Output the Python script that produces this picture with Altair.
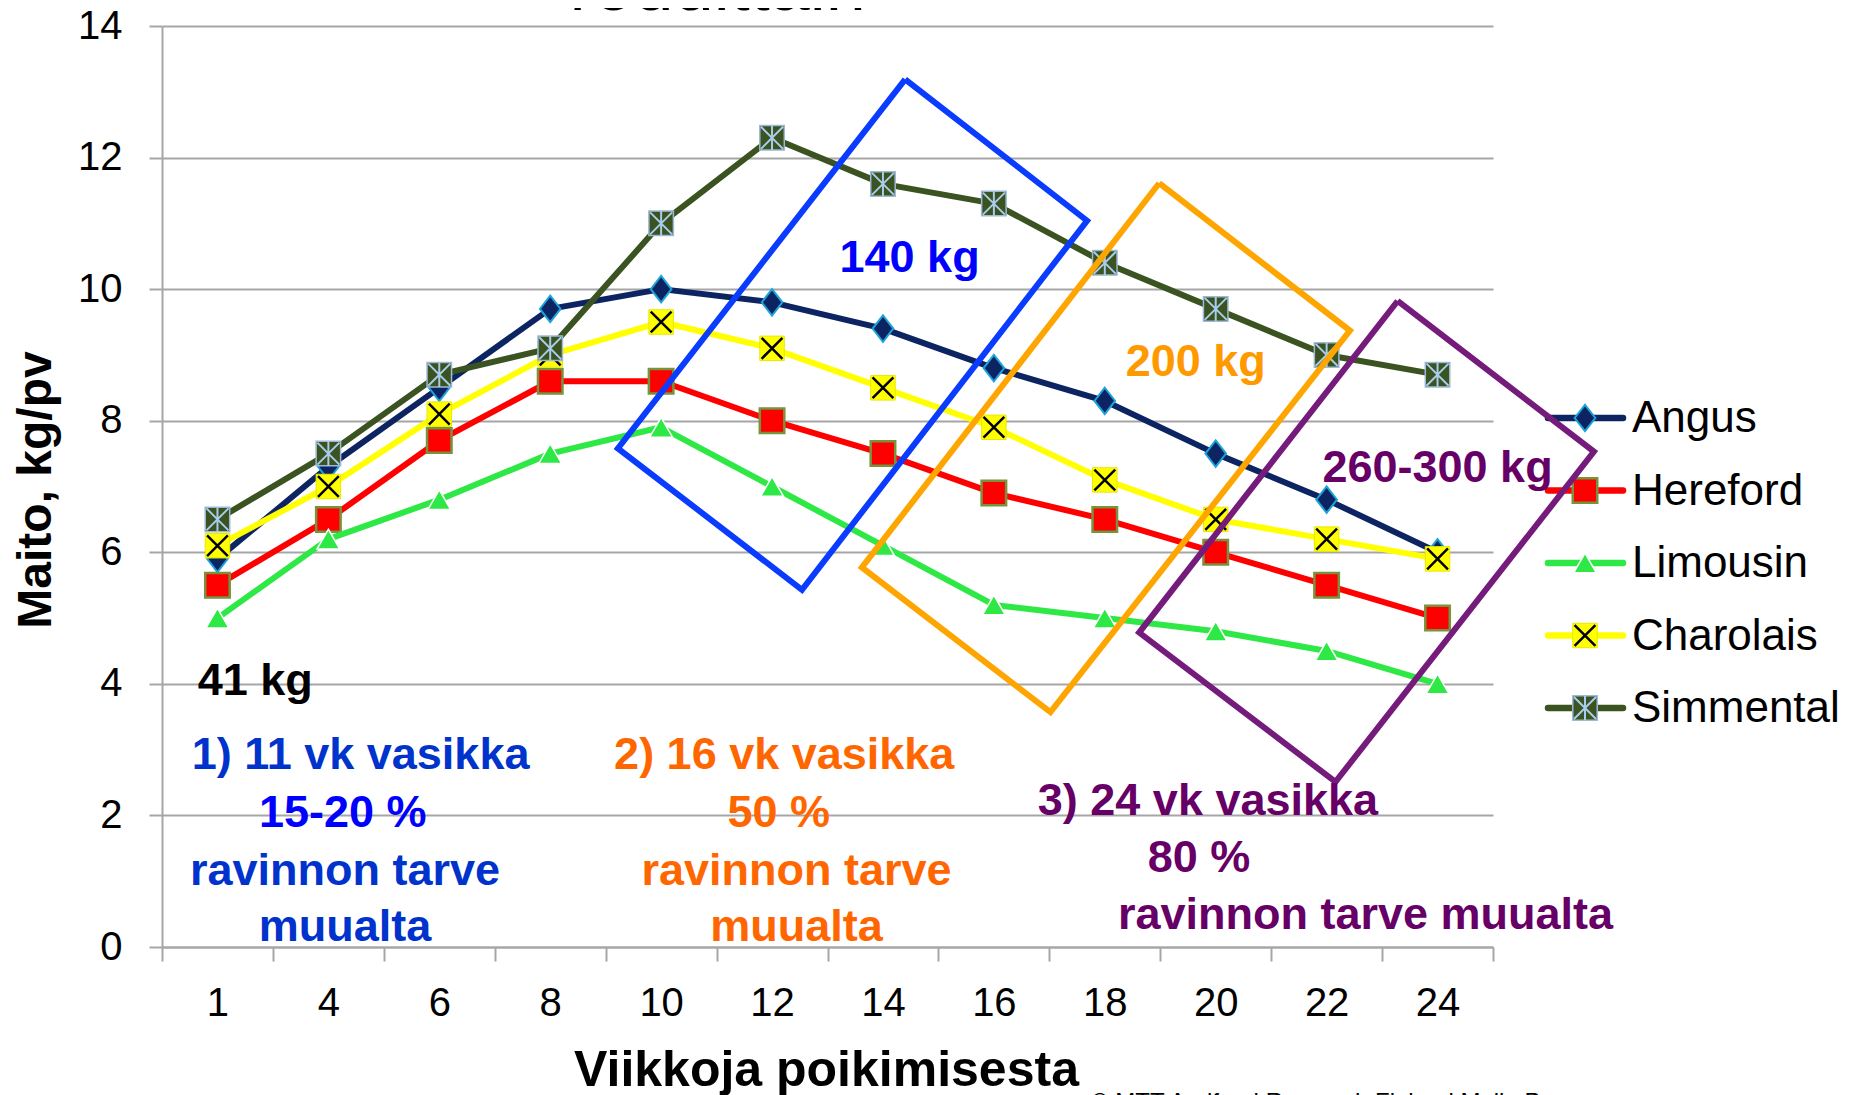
import json
import altair as alt
import pandas as pd

# ---------------- data ----------------
weeks = ["1", "4", "6", "8", "10", "12", "14", "16", "18", "20", "22", "24"]
series_names = ["Angus", "Hereford", "Limousin", "Charolais", "Simmental"]
angus = [5.9, 7.3, 8.5, 9.7, 10.0, 9.8, 9.4, 8.8, 8.3, 7.5, 6.8, 6.0]
hereford = [5.5, 6.5, 7.7, 8.6, 8.6, 8.0, 7.5, 6.9, 6.5, 6.0, 5.5, 5.0]
limousin = [5.0, 6.2, 6.8, 7.5, 7.9, 7.0, 6.1, 5.2, 5.0, 4.8, 4.5, 4.0]
charolais = [6.1, 7.0, 8.1, 9.0, 9.5, 9.1, 8.5, 7.9, 7.1, 6.5, 6.2, 5.9]
simmental = [6.5, 7.5, 8.7, 9.1, 11.0, 12.3, 11.6, 11.3, 10.4, 9.7, 9.0, 8.7]
series_values = [angus, hereford, limousin, charolais, simmental]

y_ticks = [0, 2, 4, 6, 8, 10, 12, 14]

# annotation boxes (x in week-index units, y in kg/pv)
box_names = ["blue", "orange", "purple"]
box_colors = ["#0A3CFF", "#FFA500", "#741B7C"]
box_x = [[6.20, 7.84, 5.27, 3.61], [8.49, 10.21, 7.51, 5.81], [10.64, 12.41, 10.08, 8.31]]
box_y = [[13.19, 11.04, 5.43, 7.58], [11.61, 9.37, 3.57, 5.77], [9.82, 7.53, 2.51, 4.78]]

# annotation texts
note_texts = ["140 kg", "200 kg", "260-300 kg", "41 kg",
              "1) 11 vk vasikka", "15-20 %", "ravinnon tarve", "muualta",
              "2) 16 vk vasikka", "50 %", "ravinnon tarve", "muualta",
              "3) 24 vk vasikka", "80 %", "ravinnon tarve muualta"]
note_x = [6.24, 8.82, 11.0, 0.34,
          1.29, 1.13, 1.15, 1.15,
          5.11, 5.06, 5.22, 5.22,
          8.93, 8.85, 10.35]
note_y = [10.48, 8.89, 7.28, 4.05,
          2.92, 2.03, 1.16, 0.30,
          2.92, 2.03, 1.16, 0.30,
          2.22, 1.36, 0.48]
note_colors = ["#0000FF", "#FF9900", "#660066", "#000000",
               "#0033CC", "#0000FF", "#0033CC", "#0033CC",
               "#FF6600", "#FF6600", "#FF6600", "#FF6600",
               "#660066", "#660066", "#660066"]

title_text = "roduittain"
x_title = "Viikkoja poikimisesta"
y_title = "Maito, kg/pv"
credit_text = "© MTT Agrifood Research Finland Maija Pesonen"

# ---------------- layout / style ----------------
W, H = 1331, 921
FONT = "Liberation Sans, Arial, sans-serif"
GRID = "#A6A6A6"

line_colors = ["#0C2461", "#FF0000", "#2EE845", "#FFFF00", "#3A5320"]
diamond_path = "M0,-1L0.78,0L0,1L-0.78,0Z"
x_path = "M-0.85,-0.85L0.85,0.85M-0.85,0.85L0.85,-0.85"
star_path = "M-0.9,-0.9L0.9,0.9M-0.9,0.9L0.9,-0.9M0,-1L0,1"
marker_styles = [
    dict(shape=diamond_path, fill="#0C2461", stroke="#1BA3DA", strokeWidth=2, size=700),
    dict(shape="square", fill="#FF0000", stroke="#77933C", strokeWidth=2.5, size=600),
    dict(shape="triangle-up", fill="#2EE845", stroke="#FFFFFF", strokeWidth=1.5, size=520),
    dict(shape="square", fill="#FFFF00", stroke="#E8E800", strokeWidth=1, size=600),
    dict(shape="square", fill="#3A5320", stroke="#9DB9D5", strokeWidth=1.5, size=600),
]
overlay_styles = [None, None, None,
                  dict(shape=x_path, stroke="#000000", strokeWidth=2.5, size=600),
                  dict(shape=star_path, stroke="#A9CCEB", strokeWidth=2, size=600)]

# legend layout in plot pixels
LEG_LINE = (1386, 1461)
LEG_MARK = 1423
LEG_LABEL = 1470
LEG_Y0, LEG_DY = 392, 72.5


def px_x(px):
    return px / W * 12 - 0.5


def px_y(py):
    return (H - py) / H * 14


x_scale = alt.Scale(domain=[-0.5, 11.5], nice=False, zero=False)
y_scale = alt.Scale(domain=[0, 14], nice=False, zero=False)

label_expr = json.dumps(weeks + [""]) + "[round(datum.value + 0.5)]"
x_axis = alt.Axis(
    values=[i - 0.5 for i in range(len(weeks) + 1)],
    labelExpr=label_expr, labelOffset=W / 24, labelFlush=False, labelOverlap=False,
    labelFont=FONT, labelFontSize=40, labelColor="#000000", labelPadding=22,
    grid=False, ticks=True, tickSize=14, tickColor=GRID, tickWidth=2,
    domainColor=GRID, domainWidth=2,
    title=x_title, titleFont=FONT, titleFontSize=50, titleFontWeight="bold",
    titleColor="#000000", titleX=664, titleY=138, titleBaseline="alphabetic",
    titleAlign="center",
)
y_axis = alt.Axis(
    values=y_ticks, labelFont=FONT, labelFontSize=40, labelColor="#000000",
    labelPadding=27, grid=True, gridColor=GRID, gridWidth=2,
    ticks=True, tickSize=13, tickColor=GRID, tickWidth=2,
    domainColor=GRID, domainWidth=2,
    title=y_title, titleFont=FONT, titleFontSize=48, titleFontWeight="bold",
    titleColor="#000000", titleX=-112, titleY=H / 2 + 3, titleAngle=270,
    titleBaseline="alphabetic", titleAlign="center",
)


def X(field="x"):
    return alt.X(f"{field}:Q", scale=x_scale, axis=x_axis)


def Y(field="y"):
    return alt.Y(f"{field}:Q", scale=y_scale, axis=y_axis)


layers = []

# series: line + markers (+ overlay), in series order
for k, (name, vals) in enumerate(zip(series_names, series_values)):
    df = pd.DataFrame({"x": list(range(len(weeks))), "y": vals, "week": weeks})
    leg = pd.DataFrame({"x": [px_x(LEG_MARK)], "y": [px_y(LEG_Y0 + k * LEG_DY)], "week": [""]})
    pts = pd.concat([df, leg], ignore_index=True)
    layers.append(
        alt.Chart(df).mark_line(color=line_colors[k], strokeWidth=6, strokeJoin="round")
        .encode(x=X(), y=Y(), order="x:Q")
    )
    legline = pd.DataFrame({"x": [px_x(LEG_LINE[0])], "x2": [px_x(LEG_LINE[1])],
                            "y": [px_y(LEG_Y0 + k * LEG_DY)]})
    layers.append(
        alt.Chart(legline).mark_rule(color=line_colors[k], strokeWidth=6.5, strokeCap="round")
        .encode(x=X(), x2="x2:Q", y=Y())
    )
    ms = marker_styles[k]
    layers.append(
        alt.Chart(pts).mark_point(filled=True, opacity=1, **ms).encode(x=X(), y=Y())
    )
    ov = overlay_styles[k]
    if ov is not None:
        layers.append(
            alt.Chart(pts).mark_point(filled=False, opacity=1, **ov).encode(x=X(), y=Y())
        )

# legend labels
leg_df = pd.DataFrame({
    "x": [px_x(LEG_LABEL)] * len(series_names),
    "y": [px_y(LEG_Y0 + k * LEG_DY) for k in range(len(series_names))],
    "label": series_names,
})
layers.append(
    alt.Chart(leg_df).mark_text(font=FONT, fontSize=44, align="left", baseline="middle",
                                color="#000000", dy=1)
    .encode(x=X(), y=Y(), text="label:N")
)

# annotation boxes
box_rows = []
for name, col, bx, by in zip(box_names, box_colors, box_x, box_y):
    for j in range(len(bx) + 1):
        box_rows.append({"box": name, "c": col, "k": j,
                         "x": bx[j % len(bx)], "y": by[j % len(by)]})
box_df = pd.DataFrame(box_rows)
layers.append(
    alt.Chart(box_df).mark_line(strokeWidth=6, strokeJoin="miter", clip=False)
    .encode(x=X(), y=Y(), detail="box:N", order="k:Q", color=alt.Color("c:N", scale=None))
)

# annotation texts
note_df = pd.DataFrame({"x": note_x, "y": note_y, "t": note_texts, "c": note_colors})
layers.append(
    alt.Chart(note_df).mark_text(font=FONT, fontSize=45, fontWeight="bold",
                                 align="center", baseline="middle")
    .encode(x=X(), y=Y(), text="t:N", color=alt.Color("c:N", scale=None))
)

# partially visible title at the very top
title_df = pd.DataFrame({"x": [4.51], "t": [title_text]})
layers.append(
    alt.Chart(title_df).mark_text(font=FONT, fontSize=72, align="center",
                                  baseline="alphabetic", color="#000000")
    .encode(x=X(), y=alt.value(-16), text="t:N")
)

# source credit at the bottom edge
credit_df = pd.DataFrame({"x": [px_x(929)], "t": [credit_text]})
layers.append(
    alt.Chart(credit_df).mark_text(font=FONT, fontSize=24, align="left",
                                   baseline="top", color="#000000")
    .encode(x=X(), y=alt.value(H + 144), text="t:N")
)

chart = alt.layer(*layers).properties(
    width=W, height=H,
    autosize=alt.AutoSizeParams(type="none"),
    padding={"left": 154, "top": 18, "right": 349, "bottom": 161},
    background="#FFFFFF",
).configure_view(stroke=None)

chart.save("out.html", embed_options={"renderer": "svg", "actions": False})
